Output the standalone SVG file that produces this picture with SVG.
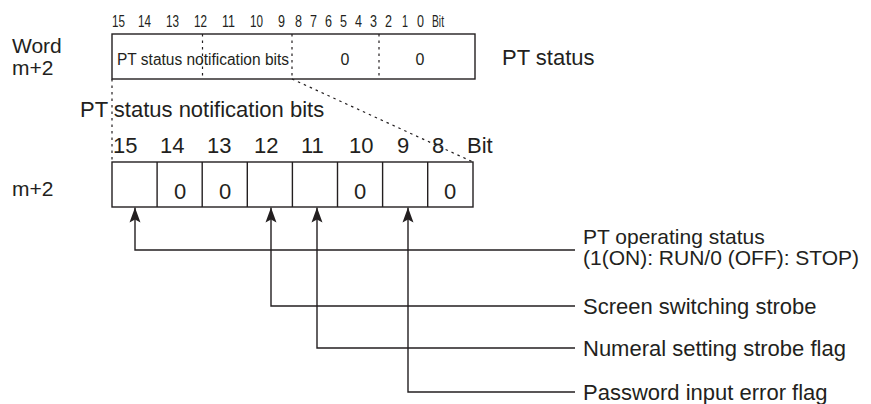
<svg xmlns="http://www.w3.org/2000/svg" width="871" height="404" viewBox="0 0 871 404">
<defs>
<style>
text{font-family:"Liberation Sans",Arial,sans-serif;fill:#231f20}
.lg{font-size:22px}
.st{font-size:21px}
.md{font-size:16px}
.sm{font-size:16.5px}
.box{fill:#fff;stroke:#231f20;stroke-width:1.4}
.dash{stroke:#231f20;stroke-width:1.2;stroke-dasharray:2.5,4;fill:none}
.conn{stroke:#231f20;stroke-width:1.4;fill:none}
</style>
<marker id="ah" viewBox="-15 -6 15 12" refX="0" refY="0" markerWidth="15" markerHeight="12" markerUnits="userSpaceOnUse" orient="auto">
<path d="M0,0 L-15,-5.5 L-12,0 L-15,5.5 Z" fill="#231f20"/>
</marker>
</defs>

<g id="word-labels">
<text class="st" x="12" y="53">Word</text>
<text class="st" x="12" y="75">m+2</text>
</g>

<g id="top-bit-numbers" class="sm">
<text x="112" y="27" textLength="13" lengthAdjust="spacingAndGlyphs">15</text>
<text x="138" y="27" textLength="13" lengthAdjust="spacingAndGlyphs">14</text>
<text x="166" y="27" textLength="13" lengthAdjust="spacingAndGlyphs">13</text>
<text x="194" y="27" textLength="13" lengthAdjust="spacingAndGlyphs">12</text>
<text x="222" y="27" textLength="13" lengthAdjust="spacingAndGlyphs">11</text>
<text x="250" y="27" textLength="13" lengthAdjust="spacingAndGlyphs">10</text>
<text x="278" y="27" textLength="7" lengthAdjust="spacingAndGlyphs">9</text>
<text x="295" y="27" textLength="7" lengthAdjust="spacingAndGlyphs">8</text>
<text x="310" y="27" textLength="7" lengthAdjust="spacingAndGlyphs">7</text>
<text x="325" y="27" textLength="7" lengthAdjust="spacingAndGlyphs">6</text>
<text x="340" y="27" textLength="7" lengthAdjust="spacingAndGlyphs">5</text>
<text x="355" y="27" textLength="7" lengthAdjust="spacingAndGlyphs">4</text>
<text x="370" y="27" textLength="7" lengthAdjust="spacingAndGlyphs">3</text>
<text x="385" y="27" textLength="7" lengthAdjust="spacingAndGlyphs">2</text>
<text x="402" y="27" textLength="6" lengthAdjust="spacingAndGlyphs">1</text>
<text x="417" y="27" textLength="7" lengthAdjust="spacingAndGlyphs">0</text>
<text x="432" y="27" textLength="12" lengthAdjust="spacingAndGlyphs">Bit</text>
</g>

<g id="pt-status-word">
<rect class="box" x="112" y="34" width="363" height="45"/>
<line class="dash" x1="202.5" y1="34" x2="202.5" y2="79"/>
<line class="dash" x1="292" y1="34" x2="292" y2="79"/>
<line class="dash" x1="379" y1="34" x2="379" y2="79"/>
<text class="md" x="117" y="65" textLength="172" lengthAdjust="spacingAndGlyphs">PT status notification bits</text>
<text class="md" x="345" y="65" text-anchor="middle">0</text>
<text class="md" x="420" y="65" text-anchor="middle">0</text>
<text class="lg" x="502" y="65">PT status</text>
</g>

<g id="expansion-lines">
<line class="dash" x1="112" y1="79" x2="112" y2="162"/>
<line class="dash" x1="292" y1="79" x2="473" y2="162"/>
</g>

<g id="notification-bits">
<text class="lg" x="80" y="117">PT status notification bits</text>
<text class="lg" x="113" y="153">15</text>
<text class="lg" x="160" y="153">14</text>
<text class="lg" x="207" y="153">13</text>
<text class="lg" x="254" y="153">12</text>
<text class="lg" x="301" y="153">11</text>
<text class="lg" x="349" y="153">10</text>
<text class="lg" x="397" y="153">9</text>
<text class="lg" x="432" y="153">8</text>
<text class="lg" x="467" y="153">Bit</text>
<text class="st" x="12" y="196">m+2</text>
<rect class="box" x="112" y="162" width="361" height="45"/>
<line class="conn" x1="157.1" y1="162" x2="157.1" y2="207"/>
<line class="conn" x1="202.2" y1="162" x2="202.2" y2="207"/>
<line class="conn" x1="247.3" y1="162" x2="247.3" y2="207"/>
<line class="conn" x1="292.4" y1="162" x2="292.4" y2="207"/>
<line class="conn" x1="337.5" y1="162" x2="337.5" y2="207"/>
<line class="conn" x1="382.6" y1="162" x2="382.6" y2="207"/>
<line class="conn" x1="427.7" y1="162" x2="427.7" y2="207"/>
<text class="lg" x="180" y="199" text-anchor="middle">0</text>
<text class="lg" x="225" y="199" text-anchor="middle">0</text>
<text class="lg" x="360" y="199" text-anchor="middle">0</text>
<text class="lg" x="450" y="199" text-anchor="middle">0</text>
</g>

<g id="connectors">
<path class="conn" d="M575,250 H135 V207.5" marker-end="url(#ah)"/>
<path class="conn" d="M575,306 H271 V207.5" marker-end="url(#ah)"/>
<path class="conn" d="M575,348 H317 V207.5" marker-end="url(#ah)"/>
<path class="conn" d="M575,392 H408 V207.5" marker-end="url(#ah)"/>
</g>

<g id="label-operating-status">
<text class="st" x="583" y="244">PT operating status</text>
<text class="st" x="583" y="265">(1(ON): RUN/0 (OFF): STOP)</text>
</g>
<g id="label-screen-switching">
<text class="lg" x="583" y="314">Screen switching strobe</text>
</g>
<g id="label-numeral-setting">
<text class="lg" x="583" y="356">Numeral setting strobe flag</text>
</g>
<g id="label-password-error">
<text class="lg" x="583" y="400">Password input error flag</text>
</g>
</svg>
